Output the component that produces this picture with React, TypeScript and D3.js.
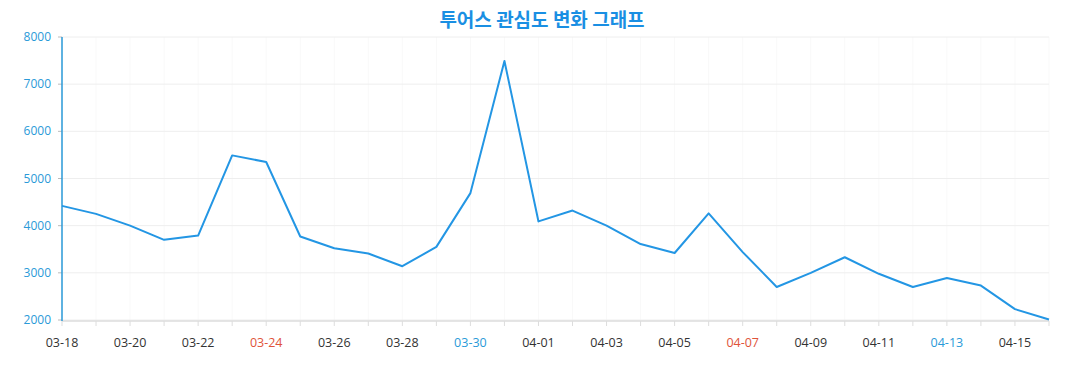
import React from 'react';
import * as d3 from 'd3';

const dates = [
  '03-18', '03-19', '03-20', '03-21', '03-22', '03-23', '03-24', '03-25', '03-26', '03-27',
  '03-28', '03-29', '03-30', '03-31', '04-01', '04-02', '04-03', '04-04', '04-05', '04-06',
  '04-07', '04-08', '04-09', '04-10', '04-11', '04-12', '04-13', '04-14', '04-15', '04-16',
];
const interest = [
  4420, 4250, 4000, 3700, 3790, 5490, 5350, 3770, 3520, 3410,
  3140, 3550, 4690, 7490, 4090, 4320, 4000, 3610, 3420, 4260,
  3440, 2700, 3000, 3330, 2980, 2700, 2890, 2730, 2230, 2010,
];
const yTicks = [2000, 3000, 4000, 5000, 6000, 7000, 8000];
const redDates = ['03-24', '04-07'];
const blueDates = ['03-30', '04-13'];

const width = 1077;
const height = 390;
const left = 62;
const right = 1049;
const top = 37;
const bottom = 320;

const App = () => {
  const x = d3.scalePoint<string>().domain(dates).range([left, right]);
  const y = d3.scaleLinear().domain([2000, 8000]).range([bottom, top]);

  const line = d3.line<number>()
    .x((_, i) => x(dates[i]) as number)
    .y(d => y(d));

  const labelColor = (d: string) =>
    redDates.includes(d) ? '#e0533a' : blueDates.includes(d) ? '#2a9ad8' : '#333';

  return (
    <svg width={width} height={height} style={{ position: 'absolute', left: 0, top: 0 }}>
      <rect width={width} height={height} fill="#fff" />
      <text
        x={542}
        y={27}
        textAnchor="middle"
        fontSize="19"
        fontWeight="bold"
        fontFamily="'Noto Sans CJK KR', sans-serif"
        fill="#1a8fe3"
      >
        투어스 관심도 변화 그래프
      </text>

      {dates.map(d => (
        <line key={'v' + d} x1={x(d)} x2={x(d)} y1={top} y2={bottom} stroke="#f9f9f9" />
      ))}
      {yTicks.map(t => (
        <g key={t}>
          <line x1={left} x2={right} y1={y(t)} y2={y(t)} stroke="#eeeeee" />
          <line x1={left - 4} x2={left} y1={y(t)} y2={y(t)} stroke="#bbb" />
          <text
            x={51}
            y={y(t) + 4}
            textAnchor="end"
            fontSize="12"
            fontFamily="'Open Sans', sans-serif"
            fill="#2a9ad8"
          >
            {t}
          </text>
        </g>
      ))}

      <line x1={left} x2={right} y1={bottom + 1} y2={bottom + 1} stroke="#dddddd" strokeWidth={1.5} />
      {dates.map(d => (
        <line key={'t' + d} x1={x(d)} x2={x(d)} y1={bottom + 1} y2={bottom + 6} stroke="#dddddd" />
      ))}
      <line x1={left} x2={left} y1={top} y2={bottom + 1} stroke="#2a9ad8" strokeWidth={1.5} />

      {dates.filter((_, i) => i % 2 === 0).map(d => (
        <text
          key={'l' + d}
          x={x(d)}
          y={347}
          textAnchor="middle"
          fontSize="12.5"
          fontFamily="'Open Sans', sans-serif"
          fill={labelColor(d)}
        >
          {d}
        </text>
      ))}

      <path
        d={line(interest) ?? ''}
        fill="none"
        stroke="#2396e4"
        strokeWidth={2}
        strokeLinejoin="round"
      />
    </svg>
  );
};

export default App;
